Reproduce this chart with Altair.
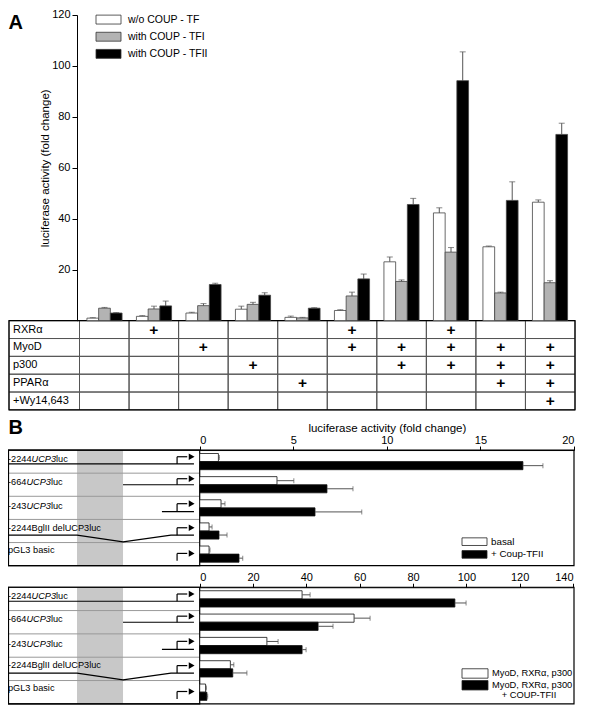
import altair as alt
import pandas as pd

# ---------------- Panel A data ----------------
conditions = ["none", "RXRα", "MyoD", "p300", "PPARα", "RXRα+MyoD", "MyoD+p300",
              "RXRα+MyoD+p300", "MyoD+p300+PPARα", "MyoD+p300+PPARα+Wy14,643"]
series_a = ["w/o COUP - TF", "with COUP - TFI", "with COUP - TFII"]
wo_coup = [1.0, 1.7, 3.0, 4.5, 1.3, 4.0, 23.1, 42.3, 29.0, 46.5]
wo_coup_err = [0.2, 0.3, 0.3, 1.2, 0.5, 0.3, 1.9, 2.0, 0.3, 0.9]
coup1 = [4.9, 4.6, 5.9, 6.4, 1.1, 9.7, 15.4, 26.9, 10.9, 14.9]
coup1_err = [0.3, 1.1, 0.8, 0.8, 0.2, 1.5, 0.6, 1.8, 0.3, 0.8]
coup2 = [3.0, 5.8, 14.2, 10.0, 4.9, 16.4, 45.6, 94.2, 47.2, 73.1]
coup2_err = [0.2, 1.9, 0.5, 1.0, 0.2, 1.9, 2.4, 11.3, 7.3, 4.4]
y_ticks_a = [20, 40, 60, 80, 100, 120]

table_rows = ["RXRα", "MyoD", "p300", "PPARα", "+Wy14,643"]
has_rxr = [0, 1, 0, 0, 0, 1, 0, 1, 0, 0]
has_myod = [0, 0, 1, 0, 0, 1, 1, 1, 1, 1]
has_p300 = [0, 0, 0, 1, 0, 0, 1, 1, 1, 1]
has_ppar = [0, 0, 0, 0, 1, 0, 0, 0, 1, 1]
has_wy = [0, 0, 0, 0, 0, 0, 0, 0, 0, 1]

# ---------------- Panel B data ----------------
constructs = ["-2244UCP3luc", "-664UCP3luc", "-243UCP3luc", "-2244BglIIdelUCP3luc", "pGL3 basic"]
label_parts = [[("-2244", 0), ("UCP3", 1), ("luc", 0)],
               [("-664", 0), ("UCP3", 1), ("luc", 0)],
               [("-243", 0), ("UCP3", 1), ("luc", 0)],
               [("-2244BglII delUCP3luc", 0)],
               [("pGL3 basic", 0)]]

series_b1 = ["basal", "+ Coup-TFII"]
b1_basal = [1.0, 4.13, 1.14, 0.5, 0.5]
b1_basal_err = [0.05, 0.9, 0.21, 0.16, 0.05]
b1_coup = [17.27, 6.8, 6.16, 1.03, 2.1]
b1_coup_err = [1.07, 1.39, 2.5, 0.43, 0.2]
x_ticks_b1 = [0, 5, 10, 15, 20]

series_b2 = ["MyoD, RXRα, p300", "MyoD, RXRα, p300 + COUP-TFII"]
b2_basal = [38.4, 57.9, 25.2, 11.5, 2.2]
b2_basal_err = [3.0, 6.0, 4.2, 1.3, 0.3]
b2_coup = [95.7, 44.4, 38.4, 12.4, 2.7]
b2_coup_err = [4.2, 5.6, 1.5, 5.3, 0.3]
x_ticks_b2 = [0, 20, 40, 60, 80, 100, 120, 140]

# schematic construct drawings (units: 0 = left edge, 100 = luciferase zero line)
shade_span = [36.0, 60.0]
promoter_start = [0.0, 60.0, 80.3, 0.0, None]
promoter_end = 97.0
deletion_pts = [36.0, 60.0, 85.0]
tss_x = 88.2
arrow_end = 93.5
arrow_head = 95.8
line_frac = [0.6, 0.5, 0.66, 0.68, 0.79]
arrow_frac = [0.29, 0.24, 0.32, 0.36, 0.47]
label_frac = [0.37, 0.38, 0.42, 0.35, 0.33]
dip_frac = 0.97

F = "Liberation Sans, Arial, Helvetica, sans-serif"
LABEL_SIZE = 9.2


def X(r):
    return r - 4.0


def Y(r):
    return 3.0 + 0.98 * r


# ================= Panel A bars =================
rows = []
for i, c in enumerate(conditions):
    for s, vals, errs in zip(series_a, [wo_coup, coup1, coup2], [wo_coup_err, coup1_err, coup2_err]):
        rows.append(dict(cond=c, series=s, value=vals[i], hi=vals[i] + errs[i]))
dfa = pd.DataFrame(rows)

xa = alt.Scale(domain=conditions, range=[X(75.5), X(571)], paddingInner=0.29, paddingOuter=0.15)
xoff_a = alt.Scale(domain=series_a, paddingInner=0, paddingOuter=0)
ya = alt.Scale(domain=[0, 120], range=[Y(316), Y(4)], nice=False)
axis_a = alt.Axis(orient="left", offset=-X(73), values=y_ticks_a,
                  title="luciferase activity (fold change)", tickSize=5, labelPadding=2,
                  titlePadding=1, labelFontSize=11, titleFontSize=11.5, titleFontWeight="normal")

base_a = alt.Chart(dfa).encode(
    x=alt.X("cond:N", scale=xa, axis=None),
    xOffset=alt.XOffset("series:N", scale=xoff_a),
)
bars_a = base_a.mark_bar(stroke="#444", strokeWidth=0.8).encode(
    y=alt.Y("value:Q", scale=ya, axis=axis_a),
    fill=alt.Fill("series:N", scale=alt.Scale(domain=series_a, range=["white", "#b3b3b3", "black"]), legend=None),
)
err_a = base_a.mark_rule(color="#555", strokeWidth=1).encode(
    y=alt.Y("value:Q", scale=ya, axis=axis_a), y2="hi:Q")
cap_a = base_a.mark_tick(color="#555", thickness=1).encode(
    y=alt.Y("hi:Q", scale=ya, axis=axis_a), size=alt.value(6))
panel_a = alt.layer(err_a, bars_a, cap_a)

# legend A
leg_a = pd.DataFrame({"series": series_a})
ly_a = alt.Scale(domain=series_a, range=[Y(0), Y(52.5)], paddingInner=0.48, paddingOuter=0.24)
leg_a_rect = alt.Chart(leg_a).mark_rect(stroke="#333", strokeWidth=0.8).encode(
    x=alt.value(X(92)), x2=alt.value(X(117)),
    y=alt.Y("series:N", scale=ly_a, axis=None),
    fill=alt.Fill("series:N", scale=alt.Scale(domain=series_a, range=["white", "#b3b3b3", "black"]), legend=None),
)
leg_a_text = alt.Chart(leg_a).mark_text(align="left", baseline="middle", font=F, fontSize=10.5).encode(
    x=alt.value(X(124)), y=alt.Y("series:N", scale=ly_a, axis=None), text="series:N")
legend_a = alt.layer(leg_a_rect, leg_a_text)

# table A
flags = {"RXRα": has_rxr, "MyoD": has_myod, "p300": has_p300, "PPARα": has_ppar, "+Wy14,643": has_wy}
dft = pd.DataFrame([dict(cond=c, row=r, flag=flags[r][i]) for r in table_rows for i, c in enumerate(conditions)])
xt = alt.Scale(domain=conditions, range=[X(75.5), X(571)], paddingInner=0, paddingOuter=0)
yt = alt.Scale(domain=table_rows, range=[Y(316), Y(407)], paddingInner=0, paddingOuter=0)
cells = alt.Chart(dft).mark_rect(fillOpacity=0, stroke="#555", strokeWidth=1).encode(
    x=alt.X("cond:N", scale=xt, axis=None), y=alt.Y("row:N", scale=yt, axis=None))
plus = alt.Chart(dft).transform_filter("datum.flag == 1").mark_text(
    text="+", font=F, fontSize=15.5, fontWeight="bold", baseline="middle", dy=0).encode(
    x=alt.X("cond:N", scale=xt, axis=None), y=alt.Y("row:N", scale=yt, axis=None))
dfr = pd.DataFrame({"row": table_rows})
label_cells = alt.Chart(dfr).mark_rect(fillOpacity=0, stroke="#555", strokeWidth=1).encode(
    x=alt.value(X(5)), x2=alt.value(X(75.5)), y=alt.Y("row:N", scale=yt, axis=None))
row_labels = alt.Chart(dfr).mark_text(align="left", baseline="middle", font=F, fontSize=11).encode(
    x=alt.value(X(9)), y=alt.Y("row:N", scale=yt, axis=None), text="row:N")
tab_border = alt.Chart(pd.DataFrame({"a": [table_rows[0]], "b": [table_rows[-1]]})).mark_rect(
    fillOpacity=0, stroke="black", strokeWidth=1.2).encode(
    x=alt.value(X(5)), x2=alt.value(X(571)), y=alt.value(Y(316)), y2=alt.value(Y(407)))
table_a = alt.layer(cells, label_cells, plus, row_labels, tab_border)

# ================= Panel B =================
CW = {"-": 333, "0": 556, "1": 556, "2": 556, "3": 556, "4": 556, "6": 556, "U": 722, "C": 722,
      "P": 667, "l": 222, "u": 556, "c": 500}


def text_w(s, size):
    return sum(CW.get(ch, 556) for ch in s) * size / 1000.0


def diagram(top_ref, bot_ref):
    ys = alt.Scale(domain=[0, 5], range=[Y(top_ref), Y(bot_ref)], nice=False, zero=False)
    xs = alt.Scale(domain=[0, 100], range=[X(4), X(195.7)], nice=False, zero=False)
    unit = (X(195.7) - X(4)) / 100.0
    XQ = lambda f: alt.X(f, scale=xs, axis=None)
    YQ = lambda f: alt.Y(f, scale=ys, axis=None)

    outer = alt.Chart(pd.DataFrame({"y": [0], "y2": [5]})).mark_rect(
        fillOpacity=0, stroke="black", strokeWidth=1.2).encode(
        x=alt.value(0.5), x2=alt.value(X(570)), y=YQ("y:Q"), y2="y2:Q")
    shade = alt.Chart(pd.DataFrame({"x": [shade_span[0]], "x2": [shade_span[1]], "y": [0], "y2": [5]})).mark_rect(
        fill="#c8c8c8").encode(x=XQ("x:Q"), x2="x2:Q", y=YQ("y:Q"), y2="y2:Q")
    seps = alt.Chart(pd.DataFrame({"y": [1, 2, 3, 4], "x": [0] * 4, "x2": [100] * 4})).mark_rule(
        color="#999", strokeWidth=1).encode(x=XQ("x:Q"), x2="x2:Q", y=YQ("y:Q"))
    pts = []
    for i, c in enumerate(constructs):
        yl = i + line_frac[i]
        if i == 3:
            xs_ = [0.0, deletion_pts[0], deletion_pts[1], deletion_pts[2], promoter_end]
            ys_ = [yl, yl, i + dip_frac, yl, yl]
        elif promoter_start[i] is not None:
            xs_ = [promoter_start[i], promoter_end]
            ys_ = [yl, yl]
        else:
            continue
        for k, (px, py) in enumerate(zip(xs_, ys_)):
            pts.append(dict(construct=c, k=k, x=px, y=py))
    lines = alt.Chart(pd.DataFrame(pts)).mark_line(color="black", strokeWidth=1.2).encode(
        x=XQ("x:Q"), y=YQ("y:Q"), detail="construct:N", order="k:Q")
    arr = pd.DataFrame({
        "construct": constructs,
        "tss": [tss_x] * 5, "end": [arrow_end] * 5, "head": [arrow_head] * 5,
        "yl": [i + line_frac[i] for i in range(5)],
        "ya": [i + arrow_frac[i] for i in range(5)],
    })
    vert = alt.Chart(arr).mark_rule(color="black", strokeWidth=1.2).encode(
        x=XQ("tss:Q"), y=YQ("yl:Q"), y2="ya:Q")
    horiz = alt.Chart(arr).mark_rule(color="black", strokeWidth=1.2).encode(
        x=XQ("tss:Q"), x2="end:Q", y=YQ("ya:Q"))
    head = alt.Chart(arr).mark_point(shape="triangle-right", filled=True, color="black", size=45, opacity=1).encode(
        x=XQ("head:Q"), y=YQ("ya:Q"))
    segs = []
    for i, parts in enumerate(label_parts):
        off = 0.0
        for t, it in parts:
            segs.append(dict(t=t, it=it, x=off / unit, y=i + label_frac[i]))
            off += text_w(t, LABEL_SIZE)
    dseg = pd.DataFrame(segs)
    lab_r = alt.Chart(dseg).transform_filter("datum.it == 0").mark_text(
        align="left", baseline="middle", font=F, fontSize=LABEL_SIZE).encode(x=XQ("x:Q"), y=YQ("y:Q"), text="t:N")
    lab_i = alt.Chart(dseg).transform_filter("datum.it == 1").mark_text(
        align="left", baseline="middle", font=F, fontSize=LABEL_SIZE, fontStyle="italic").encode(
        x=XQ("x:Q"), y=YQ("y:Q"), text="t:N")
    left = alt.Chart(pd.DataFrame({"x": [0], "x2": [100], "y": [0], "y2": [5]})).mark_rect(
        fillOpacity=0, stroke="black", strokeWidth=1.2).encode(x=XQ("x:Q"), x2="x2:Q", y=YQ("y:Q"), y2="y2:Q")
    return alt.layer(shade, seps, lines, vert, horiz, head, lab_r, lab_i, left, outer)


def bars_b(series, basal, basal_err, coup, coup_err, xmax, right_ref, top_ref, bot_ref, ticks, title):
    recs = []
    for i, c in enumerate(constructs):
        recs.append(dict(construct=c, series=series[0], value=basal[i], hi=basal[i] + basal_err[i]))
        recs.append(dict(construct=c, series=series[1], value=coup[i], hi=coup[i] + coup_err[i]))
    df = pd.DataFrame(recs)
    xs = alt.Scale(domain=[0, xmax], range=[X(195.7), X(right_ref)], nice=False)
    yb = alt.Scale(domain=constructs, range=[Y(top_ref), Y(bot_ref)], paddingInner=0.3, paddingOuter=0.15)
    yo = alt.Scale(domain=series, paddingInner=0, paddingOuter=0)
    ax_kw = dict(orient="top", offset=-Y(top_ref), values=ticks, tickSize=4, labelPadding=1,
                 labelFontSize=11, titleFontSize=11.5, titleFontWeight="normal", titlePadding=1)
    ax = alt.Axis(title=title if title else "", **ax_kw)
    base = alt.Chart(df).encode(y=alt.Y("construct:N", scale=yb, axis=None),
                                yOffset=alt.YOffset("series:N", scale=yo))
    bars = base.mark_bar(stroke="#111", strokeWidth=0.8).encode(
        x=alt.X("value:Q", scale=xs, axis=ax),
        fill=alt.Fill("series:N", scale=alt.Scale(domain=series, range=["white", "black"]), legend=None))
    err = base.mark_rule(color="#555", strokeWidth=1).encode(
        x=alt.X("value:Q", scale=xs, axis=ax), x2="hi:Q")
    cap = base.mark_tick(color="#555", thickness=1).encode(
        x=alt.X("hi:Q", scale=xs, axis=ax), size=alt.value(5))
    return alt.layer(bars, err, cap)


b1_diag = diagram(448, 566)
b1_bars = bars_b(series_b1, b1_basal, b1_basal_err, b1_coup, b1_coup_err, 20, 570, 448, 566,
                 x_ticks_b1, "luciferase activity (fold change)")
b2_diag = diagram(588, 707)
b2_bars = bars_b(series_b2, b2_basal, b2_basal_err, b2_coup, b2_coup_err, 140, 569, 588, 707,
                 x_ticks_b2, None)

# legend B top
lb1 = pd.DataFrame({"series": series_b1})
ly_b1 = alt.Scale(domain=series_b1, range=[Y(535), Y(561)], paddingInner=0.4, paddingOuter=0.2)
leg_b1 = alt.layer(
    alt.Chart(lb1).mark_rect(stroke="#222", strokeWidth=0.8).encode(
        x=alt.value(X(458)), x2=alt.value(X(483)), y=alt.Y("series:N", scale=ly_b1, axis=None),
        fill=alt.Fill("series:N", scale=alt.Scale(domain=series_b1, range=["white", "black"]), legend=None)),
    alt.Chart(lb1).mark_text(align="left", baseline="middle", font=F, fontSize=9.8).encode(
        x=alt.value(X(487)), y=alt.Y("series:N", scale=ly_b1, axis=None), text="series:N"),
)

# legend B bottom
lb2 = pd.DataFrame({"series": series_b2, "line1": ["MyoD, RXRα, p300", "MyoD, RXRα, p300"]})
ly_b2 = alt.Scale(domain=series_b2, range=[Y(670), Y(694)], paddingInner=0.2, paddingOuter=0.1)
leg_b2 = alt.layer(
    alt.Chart(lb2).mark_rect(stroke="#222", strokeWidth=0.8).encode(
        x=alt.value(X(458)), x2=alt.value(X(484)), y=alt.Y("series:N", scale=ly_b2, axis=None),
        fill=alt.Fill("series:N", scale=alt.Scale(domain=series_b2, range=["white", "black"]), legend=None)),
    alt.Chart(lb2).mark_text(align="left", baseline="middle", font=F, fontSize=9.3).encode(
        x=alt.value(X(488)), y=alt.Y("series:N", scale=ly_b2, axis=None), text="line1:N"),
    alt.Chart(pd.DataFrame({"t": ["+ COUP-TFII"]})).mark_text(
        align="center", baseline="middle", font=F, fontSize=9.3).encode(
        x=alt.value(X(525)), y=alt.value(Y(697.5)), text="t:N"),
)

letters = alt.Chart(pd.DataFrame({"t": ["A", "B"], "x": [0.5, 0.5], "y": [Y(18), Y(432)]})).mark_text(
    align="left", baseline="alphabetic", font=F, fontSize=20, fontWeight="bold").encode(
    x=alt.X("x:Q", scale=alt.Scale(domain=[0, 584], range=[0, 584]), axis=None),
    y=alt.Y("y:Q", scale=alt.Scale(domain=[0, 700], range=[0, 700]), axis=None),
    text="t:N")

chart = alt.layer(
    table_a, panel_a, legend_a, b1_diag, b1_bars, leg_b1, b2_diag, b2_bars, leg_b2, letters
).resolve_scale(
    x="independent", y="independent", xOffset="independent", yOffset="independent", fill="independent"
).properties(
    width=584, height=700, padding=0, autosize=alt.AutoSizeParams(type="none")
).configure_view(stroke=None).configure_axis(
    grid=False, labelFont=F, titleFont=F, labelColor="black", titleColor="black",
    domainColor="black", tickColor="black"
)

chart.save("out.html", embed_options={"renderer": "svg", "actions": False})
